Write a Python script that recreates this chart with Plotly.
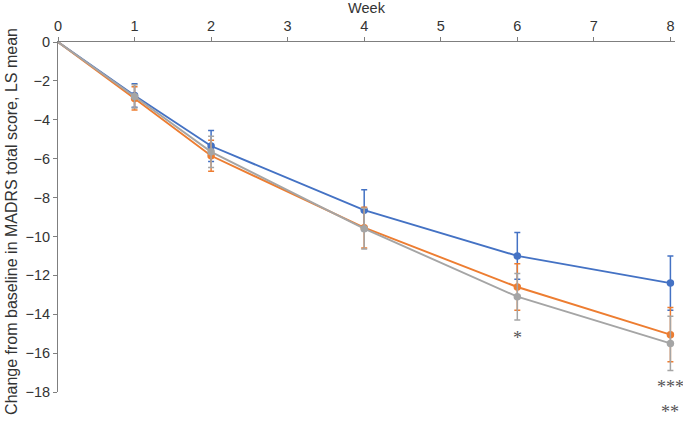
import plotly.graph_objects as go

weeks = [0, 1, 2, 4, 6, 8]
series_names = ["Group A", "Group B", "Group C"]
blue_vals = [0, -2.75, -5.35, -8.65, -11.0, -12.4]
orange_vals = [0, -2.9, -5.85, -9.55, -12.6, -15.05]
gray_vals = [0, -2.8, -5.65, -9.6, -13.1, -15.5]
blue_err = [0, 0.6, 0.8, 1.05, 1.2, 1.4]
orange_err = [0, 0.6, 0.8, 1.05, 1.2, 1.4]
gray_err = [0, 0.6, 0.8, 1.05, 1.2, 1.4]
x_ticks = [0, 1, 2, 3, 4, 5, 6, 7, 8]
y_ticks = [0, -2, -4, -6, -8, -10, -12, -14, -16, -18]
sig_labels = ["*", "***", "**"]
sig_x = [6, 8, 8]
sig_y = [-15.2, -17.75, -19.05]

colors = ["#4472C4", "#ED7D31", "#A5A5A5"]
values = [blue_vals, orange_vals, gray_vals]
errors = [blue_err, orange_err, gray_err]

Y_MIN, Y_MAX = -18, 0

fig = go.Figure()
for name, vals, errs, col in zip(series_names, values, errors, colors):
    fig.add_trace(go.Scatter(x=weeks, y=vals, mode="lines", name=name,
                             line=dict(color=col, width=1.9), showlegend=False,
                             hoverinfo="skip", cliponaxis=False))
    fig.add_trace(go.Scatter(x=weeks[1:], y=vals[1:], mode="markers", name=name,
                             marker=dict(color=col, size=7.5),
                             error_y=dict(type="data", array=errs[1:], visible=True,
                                          color=col, thickness=1.5, width=3),
                             showlegend=False, cliponaxis=False))

for lab, sx, sy in zip(sig_labels, sig_x, sig_y):
    fig.add_annotation(x=sx, y=(sy - Y_MIN) / (Y_MAX - Y_MIN), text=lab,
                       showarrow=False, xref="x", yref="paper",
                       xanchor="center", yanchor="middle",
                       font=dict(family="Liberation Serif", size=18, color="#555555"))

fig.add_annotation(text="Change from baseline in MADRS total score, LS mean",
                   xref="paper", yref="paper", x=-46 / 617, y=0.486, textangle=-90,
                   showarrow=False, xanchor="center", yanchor="middle",
                   font=dict(family="Liberation Sans", size=16, color="#333333"))

fig.update_layout(
    width=683, height=428,
    margin=dict(l=58, r=8, t=42, b=36, autoexpand=False),
    plot_bgcolor="white", paper_bgcolor="white",
    font=dict(family="Liberation Sans", size=14, color="#333333"),
    xaxis=dict(side="top", range=[0, 8.06], tickvals=x_ticks, showgrid=False,
               zeroline=False, showline=True, linecolor="#7f7f7f", linewidth=1,
               ticks="outside", ticklen=4, tickcolor="#7f7f7f", automargin=False,
               tickfont=dict(size=14.5),
               title=dict(text="Week", standoff=4,
                          font=dict(family="Liberation Sans", size=14.5, color="#333333"))),
    yaxis=dict(range=[Y_MIN, Y_MAX], tickvals=y_ticks, showgrid=False, zeroline=False,
               showline=True, linecolor="#7f7f7f", linewidth=1, automargin=False,
               tickfont=dict(size=14.5),
               ticks="outside", ticklen=4, tickcolor="#7f7f7f"),
)

fig.write_html("out.html", config={"displayModeBar": False},
               post_script="document.body.style.margin='0';")
